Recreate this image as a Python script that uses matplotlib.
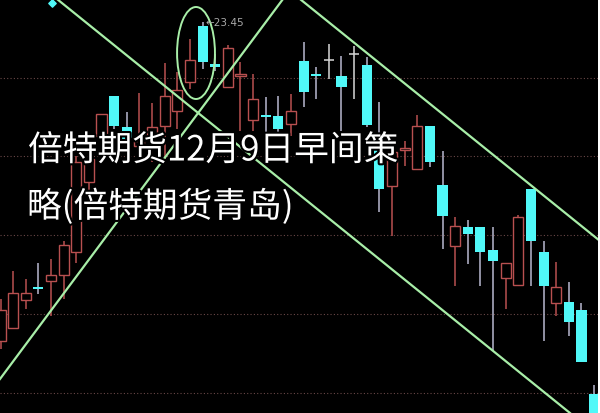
import matplotlib
matplotlib.use('Agg')
import matplotlib.pyplot as plt
import matplotlib.patheffects as pe
from matplotlib.patches import Ellipse
import numpy as np

# candle data (price units)
opens = [20.26, 20.39, 20.67, 20.80, 20.86, 20.92, 21.15, 21.85, 22.31, 22.71,
         22.40, 22.21, 22.31, 22.41, 22.56, 22.85, 23.41, 23.03, 22.80, 22.91,
         22.47, 22.52, 22.51, 22.43, 23.06, 22.93, 23.07, 22.91, 23.13, 23.02,
         22.18, 21.81, 22.17, 21.98, 22.41, 21.82, 21.21, 21.40, 21.40, 21.17,
         20.89, 20.82, 21.78, 21.15, 20.64, 20.65, 20.57, 19.73]
closes = [20.57, 20.74, 20.74, 20.78, 20.92, 21.22, 22.05, 22.08, 22.53, 22.41,
          22.28, 22.26, 22.40, 22.71, 22.77, 23.07, 23.05, 23.00, 23.19, 22.93,
          22.68, 22.50, 22.38, 22.56, 22.75, 22.91, 23.07, 22.80, 23.13, 22.42,
          21.78, 22.15, 22.19, 22.41, 22.05, 21.51, 21.41, 21.33, 21.15, 21.06,
          21.04, 21.50, 21.26, 20.81, 20.80, 20.45, 20.05, 19.28]
highs = [20.68, 20.96, 20.88, 21.04, 21.08, 21.26, 22.11, 22.23, 22.53, 22.71,
         22.55, 22.74, 22.64, 23.04, 22.95, 23.28, 23.45, 23.13, 23.22, 23.05,
         22.93, 22.70, 22.71, 22.73, 23.25, 23.00, 23.23, 23.11, 23.21, 23.10,
         22.65, 22.18, 22.26, 22.52, 22.41, 22.16, 21.50, 21.47, 21.40, 21.40,
         21.04, 21.52, 21.78, 21.26, 21.05, 20.85, 20.64, 19.82]
lows = [20.18, 20.39, 20.58, 20.73, 20.51, 20.68, 21.04, 21.73, 22.05, 22.38,
        22.28, 22.13, 22.05, 22.08, 22.38, 22.78, 22.98, 22.96, 22.80, 22.36,
        22.36, 22.31, 22.33, 22.31, 22.60, 22.68, 22.88, 22.36, 22.68, 22.40,
        21.55, 21.31, 22.01, 21.98, 22.00, 21.18, 20.81, 21.03, 20.81, 20.16,
        20.58, 20.82, 20.81, 20.26, 20.51, 20.31, 20.05, 19.20]

grid_levels = [22.89, 22.11, 21.32, 20.53, 19.74]

# hand drawn trend lines: two points each (index, price)
trend_a = [(4.47, 23.68), (45.09, 19.54)]
trend_b = [(-0.04, 19.88), (22.37, 23.68)]
trend_c = [(23.71, 23.68), (47.47, 21.26)]
circle_center = (15.48, 23.14)
peak_label = '23.45'

title_line1 = '倍特期货12月9日早间策'
title_line2 = '略(倍特期货青岛)'

UP = '#b85050'
DOWN = '#50f8f8'
DOWN_WICK = '#b8b8d0'
DOJI = '#d8d8d8'
LINE = '#a8eea8'

fig = plt.figure(figsize=(6, 4.14), dpi=100, facecolor='white')
ax = fig.add_axes([0, 0, 598 / 600, 1])
ax.set_facecolor('black')
ax.set_xlim(-0.04, 47.31)
ax.set_ylim(19.54, 23.68)
ax.set_xticks([])
ax.set_yticks([])
for s in ax.spines.values():
    s.set_visible(False)

for g in grid_levels:
    ax.axhline(g, color='#6a4848', lw=0.8, ls=(0, (1, 2)), zorder=0)

x = np.arange(len(opens))
o = np.array(opens)
c = np.array(closes)
h = np.array(highs)
l = np.array(lows)
w = 0.8

for i in x:
    if c[i] > o[i]:
        ax.vlines(i, l[i], h[i], color=UP, lw=1.1, zorder=2)
        ax.bar(i, c[i] - o[i], w, bottom=o[i], facecolor='black',
               edgecolor=UP, lw=1.0, zorder=3)
    elif c[i] < o[i]:
        ax.vlines(i, l[i], h[i], color=DOWN_WICK, lw=1.1, zorder=2)
        ax.bar(i, max(o[i] - c[i], 0.02), w, bottom=c[i], color=DOWN,
               lw=0, zorder=3)
    else:
        ax.vlines(i, l[i], h[i], color=DOJI, lw=1.1, zorder=2)
        ax.hlines(o[i], i - w / 2, i + w / 2, color=DOJI, lw=1.1, zorder=3)

for line in [trend_a, trend_b, trend_c]:
    ax.axline(line[0], line[1], color=LINE, lw=1.6, zorder=4)

ax.add_patch(Ellipse(circle_center, 3.0, 0.92, fill=False, ec=LINE,
                     lw=1.4, zorder=4))

ax.scatter([4.08], [23.64], marker='D', s=14, color=DOWN, zorder=5)

peak_i = int(np.argmax(h))
ax.annotate('←' + peak_label, xy=(peak_i, h[peak_i]), xytext=(2, 0),
            textcoords='offset points', va='center', ha='left',
            fontsize=7.5, color='#a8a8a8', family='DejaVu Sans', zorder=6)

stroke = [pe.withStroke(linewidth=3, foreground='black')]
fig.text(28 / 600, 1 - 152 / 414, title_line1, color='white', fontsize=25,
         family=['Noto Sans CJK SC', 'DejaVu Sans'], va='center', ha='left',
         path_effects=stroke)
fig.text(27 / 600, 1 - 208 / 414, title_line2, color='white', fontsize=25,
         family=['Noto Sans CJK SC', 'DejaVu Sans'], va='center', ha='left',
         path_effects=stroke)

fig.savefig('out.png', dpi=100, facecolor=fig.get_facecolor())
